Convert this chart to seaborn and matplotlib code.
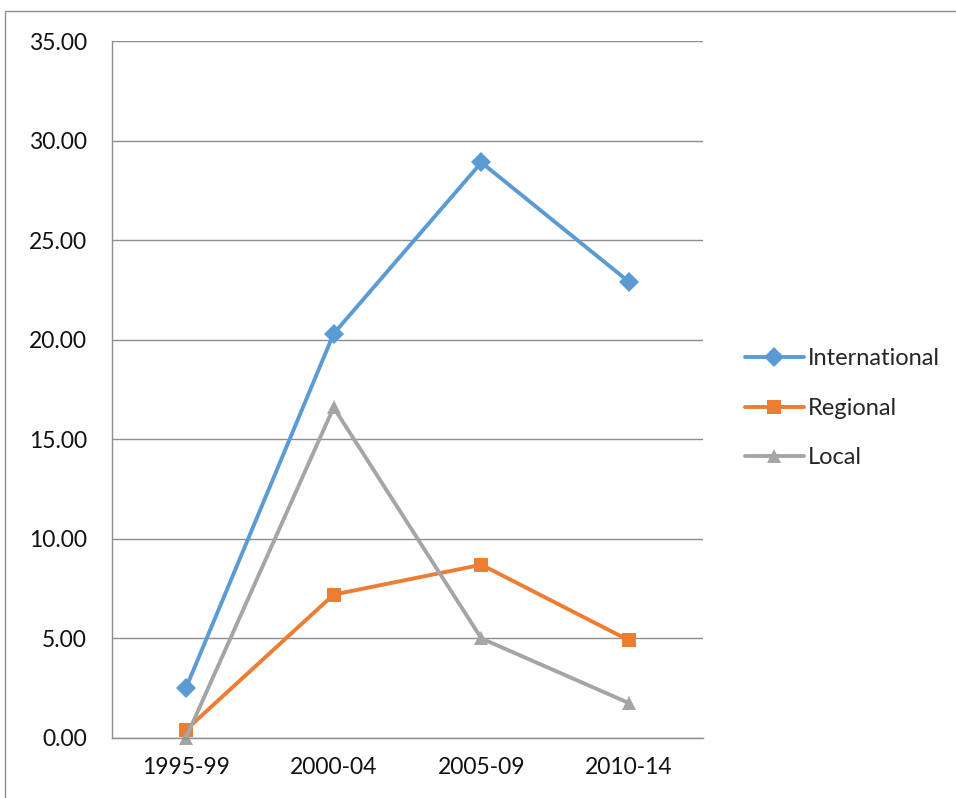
import pandas as pd
import seaborn as sns
import matplotlib.pyplot as plt
from matplotlib.patches import Rectangle
from matplotlib.ticker import FixedLocator, FormatStrFormatter

# dati
periods = ['1995-99', '2000-04', '2005-09', '2010-14']
international = [2.50, 20.30, 28.90, 22.90]
regional = [0.40, 7.20, 8.70, 4.90]
local = [0.00, 16.60, 5.00, 1.75]

series_names = ['International', 'Regional', 'Local']
colors = ['#5B9BD5', '#ED7D31', '#A5A5A5']
markers = {'International': 'D', 'Regional': 's', 'Local': '^'}

df = pd.DataFrame({'period': periods * 3,
                   'value': international + regional + local,
                   'series': [s for s in series_names for _ in periods]})

sns.set_style('white')
plt.rcParams['font.family'] = ['Lato', 'DejaVu Sans']

fig = plt.figure(figsize=(9.56, 7.98), dpi=100)
ax = fig.add_axes([112 / 956, 1 - 738 / 798, (703 - 112) / 956, (738 - 41) / 798])

sns.lineplot(data=df, x='period', y='value', hue='series', style='series',
             palette=colors, markers=markers, dashes=False, linewidth=2.8,
             markersize=10, markeredgewidth=0, sort=False, clip_on=False, ax=ax)

ax.set_xlim(-0.5, 3.5)
ax.set_ylim(0, 35)
ax.set_yticks([0, 5, 10, 15, 20, 25, 30, 35])
ax.yaxis.set_major_formatter(FormatStrFormatter('%.2f'))
ax.yaxis.grid(True, color='#8E8E8E', linewidth=1)
ax.set_axisbelow(True)
ax.set_xlabel('')
ax.set_ylabel('')

# tacche sui confini delle categorie
ax.xaxis.set_minor_locator(FixedLocator([-0.5, 0.5, 1.5, 2.5, 3.5]))
ax.tick_params(axis='x', which='major', length=0, pad=14, labelsize=16.5, colors='#111111')
ax.tick_params(axis='x', which='minor', length=7, width=1, color='#8E8E8E', direction='out')
ax.tick_params(axis='y', length=7, width=1, color='#8E8E8E', direction='out', pad=11,
               labelsize=16.5, labelcolor='#111111')

for side in ['top', 'right']:
    ax.spines[side].set_visible(False)
for side in ['left', 'bottom']:
    ax.spines[side].set_color('#8E8E8E')
    ax.spines[side].set_linewidth(1)

ax.legend(loc='center left', bbox_to_anchor=(1.035, 0.473), frameon=False,
          fontsize=17, handlelength=2.5, handletextpad=0.15, labelspacing=1.2,
          markerscale=1.0, title=None)

# bordo esterno del grafico
fig.patches.append(Rectangle((5 / 956, -0.1), 1.2, 1 - 11 / 798 + 0.1,
                             transform=fig.transFigure, fill=False,
                             edgecolor='#8E8E8E', linewidth=1))

plt.savefig('out.png', dpi=100)
